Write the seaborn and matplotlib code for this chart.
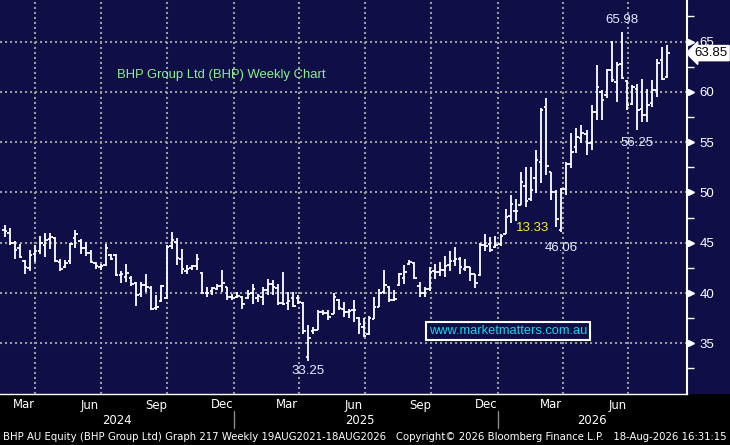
import numpy as np
import pandas as pd
import matplotlib
matplotlib.use("Agg")
import matplotlib.pyplot as plt
import matplotlib.dates as mdates
import matplotlib.transforms as mtransforms
from matplotlib.patches import Rectangle
import seaborn as sns

# ---------------- data (weekly OHLC) ----------------
weeks = pd.date_range("2024-02-19", periods=132, freq="W-MON")

opens = [46.3, 46.0, 45.0, 44.5, 43.2, 42.5, 43.9, 44.2, 44.8, 45.4,
         45.5, 43.1, 42.6, 43.2, 45.5, 45.2, 44.5, 44.0, 43.0, 42.6,
         42.8, 43.8, 43.8, 41.8, 41.6, 41.5, 41.0, 39.9, 40.8, 40.5,
         38.5, 39.2, 39.5, 44.7, 45.1, 43.4, 42.2, 42.5, 42.7, 42.0,
         40.0, 40.2, 40.4, 40.7, 40.6, 39.6, 39.6, 39.6, 39.5, 40.0,
         39.5, 39.6, 40.3, 40.9, 40.5, 39.0, 39.0, 39.5, 39.5, 39.0,
         33.6, 36.2, 36.3, 38.1, 38.0, 37.9, 39.3, 38.4, 38.1, 38.3,
         37.5, 36.6, 35.9, 37.4, 38.6, 40.1, 40.6, 39.3, 40.8, 41.5,
         42.9, 43.0, 40.7, 40.0, 40.4, 42.2, 42.1, 42.3, 42.8, 43.2,
         43.4, 42.4, 42.6, 41.9, 41.8, 44.8, 44.9, 44.6, 44.9, 45.9,
         47.7, 48.2, 48.7, 50.6, 49.3, 51.4, 53.0, 58.5, 52.0, 50.0,
         46.3, 50.3, 52.8, 54.5, 55.4, 55.8, 54.9, 58.0, 60.0, 59.7,
         62.2, 61.0, 62.8, 61.1, 58.8, 60.3, 58.3, 57.7, 58.9, 60.2,
         63.2, 61.5]
highs = [46.8, 46.5, 45.2, 44.9, 43.3, 44.3, 44.8, 45.7, 46.0, 46.0,
         45.6, 43.4, 43.3, 45.0, 46.3, 45.4, 45.1, 44.3, 43.1, 42.9,
         44.9, 43.9, 43.9, 42.2, 42.9, 41.7, 41.1, 41.1, 41.9, 40.7,
         39.8, 40.8, 44.8, 46.1, 45.5, 44.4, 42.8, 42.8, 43.9, 42.1,
         40.6, 40.6, 40.9, 42.3, 40.6, 39.9, 40.1, 39.7, 40.3, 40.9,
         39.9, 40.6, 41.4, 41.3, 40.9, 42.1, 40.1, 40.1, 39.8, 39.1,
         36.8, 36.6, 38.3, 38.3, 38.3, 40.0, 39.4, 39.1, 38.4, 39.3,
         37.6, 37.5, 37.7, 39.6, 40.4, 42.3, 40.7, 40.3, 42.0, 42.8,
         43.3, 43.1, 41.1, 40.6, 42.6, 42.9, 43.1, 43.7, 44.2, 44.6,
         43.6, 43.4, 42.6, 41.9, 45.0, 45.9, 45.6, 45.7, 45.9, 48.4,
         49.7, 49.3, 52.0, 52.5, 52.5, 54.2, 58.4, 59.4, 52.0, 50.2,
         50.4, 53.0, 55.9, 56.4, 56.7, 56.2, 58.7, 62.7, 60.2, 62.3,
         65.1, 63.0, 65.98, 61.2, 60.7, 60.8, 61.3, 60.3, 61.2, 63.3,
         64.5, 64.7]
lows = [45.6, 44.8, 43.4, 43.5, 41.9, 42.2, 43.1, 43.9, 43.6, 44.4,
        43.1, 42.2, 42.5, 42.9, 44.5, 43.9, 43.7, 43.0, 42.4, 42.3,
        42.7, 43.3, 41.7, 41.0, 41.1, 40.7, 38.7, 39.6, 40.1, 38.3,
        38.3, 39.1, 39.4, 44.4, 42.8, 41.9, 41.9, 42.3, 42.3, 39.9,
        39.6, 39.8, 40.3, 40.1, 39.3, 39.3, 39.5, 38.4, 39.4, 38.9,
        39.1, 38.8, 39.8, 39.8, 38.8, 38.8, 38.3, 38.6, 38.9, 35.9,
        33.25, 35.9, 36.3, 37.8, 37.3, 37.9, 38.3, 37.6, 37.5, 37.1,
        35.9, 35.6, 35.8, 37.4, 38.6, 39.9, 39.1, 39.2, 40.7, 40.9,
        42.8, 41.4, 39.6, 39.6, 40.2, 41.4, 41.7, 41.6, 42.2, 42.7,
        41.9, 42.2, 41.2, 40.5, 41.7, 44.2, 44.1, 44.5, 44.7, 45.9,
        47.0, 47.2, 48.7, 48.6, 49.1, 49.9, 50.9, 51.7, 49.2, 46.6,
        46.06, 49.7, 52.4, 53.9, 54.9, 53.7, 54.2, 57.2, 57.2, 59.4,
        61.0, 59.0, 61.3, 58.2, 58.7, 56.25, 57.0, 57.0, 58.5, 59.5,
        61.2, 61.4]
closes = [46.2, 45.0, 44.3, 43.6, 42.6, 43.8, 44.2, 45.0, 45.3, 45.6,
          43.2, 42.4, 43.0, 44.9, 45.9, 44.5, 44.0, 43.1, 42.7, 42.7,
          44.5, 43.4, 41.8, 41.9, 42.0, 40.9, 39.8, 40.8, 40.6, 38.4,
          38.6, 40.7, 44.6, 45.3, 43.5, 42.4, 42.4, 42.7, 43.4, 40.0,
          40.0, 40.5, 40.7, 41.0, 39.6, 39.5, 39.7, 38.9, 39.9, 40.4,
          39.7, 40.3, 40.9, 40.6, 39.0, 38.9, 39.2, 38.7, 39.1, 36.2,
          35.5, 36.3, 38.1, 38.0, 37.6, 39.6, 38.5, 38.1, 38.2, 38.3,
          36.9, 35.7, 37.5, 38.6, 40.0, 40.8, 39.3, 39.4, 41.9, 42.1,
          43.1, 41.5, 40.0, 40.4, 42.1, 42.1, 42.3, 42.7, 43.2, 43.4,
          42.6, 42.6, 41.9, 41.0, 44.8, 44.7, 44.3, 44.8, 45.7, 47.6,
          48.8, 48.2, 51.0, 49.1, 50.2, 53.2, 58.2, 52.6, 50.0, 47.4,
          50.3, 52.8, 54.0, 55.5, 55.9, 54.9, 58.0, 60.5, 59.2, 62.2,
          61.2, 62.7, 61.4, 58.7, 60.5, 58.2, 57.7, 58.7, 60.2, 62.9,
          61.3, 63.85]

y_ticks = [35, 40, 45, 50, 55, 60, 65]
month_names = ["Mar", "Jun", "Sep", "Dec", "Mar", "Jun", "Sep", "Dec", "Mar", "Jun"]
month_dates = ["2024-03-16", "2024-06-16", "2024-09-16", "2024-12-16",
               "2025-03-16", "2025-06-16", "2025-09-16", "2025-12-16",
               "2026-03-16", "2026-06-16"]
year_names = ["2024", "2025", "2026"]
year_dates = ["2024-07-23", "2025-06-24", "2026-05-11"]
title_text = "BHP Group Ltd (BHP) Weekly Chart"
footer_text = ("BHP AU Equity (BHP Group Ltd) Graph 217 Weekly 19AUG2021-18AUG2026   "
               "Copyright\u00a9 2026 Bloomberg Finance L.P.   18-Aug-2026 16:31:15")

# ---------------- styling ----------------
sns.set_theme(style="dark")
plt.rcParams["font.family"] = ["Liberation Sans", "DejaVu Sans"]

W, H = 730, 445
NAVY = "#0f0e47"
GRID = "#9a9a9a"
WHITE = "#ffffff"
LABEL = "#e4ecff"

fig = plt.figure(figsize=(W / 100, H / 100), dpi=100, facecolor="black")
fig.patches.append(Rectangle((687 / W, 51 / H), 43 / W, 394 / H,
                             transform=fig.transFigure, facecolor=NAVY,
                             edgecolor="none", zorder=-5))
ax = fig.add_axes([0, 51 / H, 687 / W, 394 / H])
ax.set_zorder(2)
ax.set_facecolor(NAVY)

x = mdates.date2num(weeks)
half = 3.4  # days, tick length
ax.vlines(x, lows, highs, color=WHITE, linewidth=1.3, zorder=3)
ax.hlines(opens, x - half, x, color=WHITE, linewidth=1.3, zorder=3)
ax.hlines(closes, x, x + half, color=WHITE, linewidth=1.3, zorder=3)

ax.set_xlim(mdates.date2num(pd.Timestamp("2024-02-12 14:00")),
            mdates.date2num(pd.Timestamp("2026-09-20")))
ax.set_ylim(29.96, 69.13)

# grid: quarter boundaries + 5-unit price levels
qdates = pd.date_range("2024-04-01", "2026-07-01", freq="QS")
ax.set_xticks(mdates.date2num(qdates))
ax.set_xticks(mdates.date2num(pd.date_range("2024-03-01", "2026-09-01", freq="MS")), minor=True)
ax.set_yticks(y_ticks)
ax.set_yticks(np.arange(32.5, 68, 5), minor=True)
ax.grid(True, which="major", color=GRID, linestyle=(0, (1, 1.4)), linewidth=1.5, zorder=1)
ax.grid(False, which="minor")
ax.tick_params(axis="x", which="both", direction="out", colors=WHITE, labelbottom=False,
               length=4, width=1)
ax.yaxis.tick_right()
ax.tick_params(axis="y", which="major", length=0, pad=9, labelsize=9.5, labelcolor=WHITE)
ax.tick_params(axis="y", which="minor", length=5, width=1, colors=WHITE)
ax.set_yticklabels([str(v) for v in y_ticks])

for s in ["top", "left"]:
    ax.spines[s].set_visible(False)
ax.spines["right"].set_color(WHITE)
ax.spines["right"].set_linewidth(1.5)
ax.spines["bottom"].set_color(WHITE)
ax.spines["bottom"].set_linewidth(1.0)

# triangle markers at major y ticks
ytrans = mtransforms.blended_transform_factory(ax.transAxes, ax.transData)
ax.plot([1.0 + 4 / 687] * len(y_ticks), y_ticks, linestyle="", marker=">", markersize=5,
        color=WHITE, transform=ytrans, clip_on=False, zorder=5)

# bottom month / year labels (condensed, Bloomberg-like)
xtrans = ax.get_xaxis_transform()
for name, d in zip(month_names, month_dates):
    ax.text(mdates.date2num(pd.Timestamp(d)), -11 / 394, name, transform=xtrans,
            ha="center", va="center", color=WHITE, fontsize=9.4,
            family=["DejaVu Sans"], fontstretch="condensed", clip_on=False)
for name, d in zip(year_names, year_dates):
    ax.text(mdates.date2num(pd.Timestamp(d)), -26 / 394, name, transform=xtrans,
            ha="center", va="center", color=WHITE, fontsize=9.4,
            family=["DejaVu Sans"], fontstretch="condensed", clip_on=False)
for d in ["2025-01-01", "2026-01-01"]:
    ax.plot([mdates.date2num(pd.Timestamp(d))] * 2, [-17 / 394, -34 / 394], color="#8a8a8a",
            linewidth=1, transform=xtrans, clip_on=False)

fig.text(3 / W, (H - 437) / H, footer_text, ha="left", va="center", color=WHITE,
         fontsize=8.15, family=["DejaVu Sans"], fontstretch="condensed")

# chart title
ax.text(117 / 687, 1 - 75 / 394, title_text, transform=ax.transAxes, ha="left", va="center",
        color="#8cf08c", fontsize=9.4)

# value annotations
def ann(i, val, dy, color=LABEL):
    ax.annotate(f"{val:.2f}", xy=(x[i], val), xytext=(0, dy), textcoords="offset pixels",
                ha="center", va="center", color=color, fontsize=9.5, zorder=6)

ann(int(np.argmax(highs)), max(highs), 12)
ann(125, lows[125], -13)
ann(110, lows[110], -16)
ann(60, lows[60], -10)
ax.text(533 / 687, 1 - 228 / 394, "13.33", transform=ax.transAxes, ha="center", va="center",
        color="#f5f01e", fontsize=9.5, zorder=6)

# website box
ax.text(508 / 687, 1 - 331 / 394, "www.marketmatters.com.au", transform=ax.transAxes,
        ha="center", va="center", color="#19d4f0", fontsize=9.3, zorder=6,
        bbox=dict(boxstyle="square,pad=0.25", facecolor=NAVY, edgecolor=WHITE, linewidth=1.5))

# last price tag
tagtrans = mtransforms.blended_transform_factory(fig.transFigure, ax.transData)
ax.text(711 / W, closes[-1], f"{closes[-1]:.2f}", transform=tagtrans,
        ha="center", va="center", color="black", fontsize=9.5, zorder=7, clip_on=False,
        bbox=dict(boxstyle="larrow,pad=0.12", facecolor=WHITE, edgecolor=WHITE))

fig.savefig("out.png", dpi=100, facecolor="black")
